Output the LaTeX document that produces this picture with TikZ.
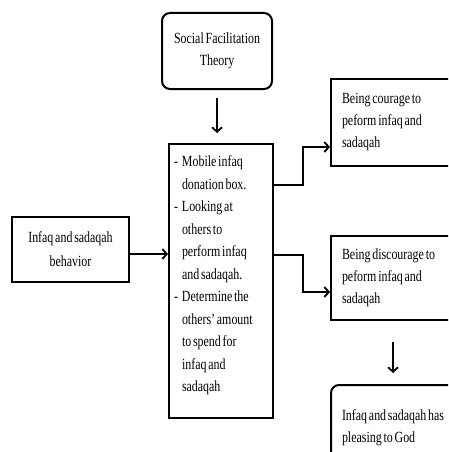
\documentclass[tikz,border=0pt]{standalone}
\usepackage{fontspec}
\setmainfont[FakeStretch=0.77, WordSpace=0.6]{Liberation Serif}
\usetikzlibrary{arrows.meta}
\tikzset{ box/.style = { rectangle
                       , draw
                       , line width   = 2pt
                       , inner sep    = 0pt
                       , font         = \fontsize{15.5}{22}\selectfont
                       , execute at begin node = {\spaceskip=0pt\relax}
                       },
          rbox/.style = { box
                        , rounded corners = 8pt
                        },
          flow/.style = { line width = 2pt
                        , -{Straight Barb[length=4.5pt,width=10pt,line width=1.8pt]}
                        }
        }
\newcommand{\dashitem}{-\hspace{4pt}}
\newcommand{\hangitem}{\hspace*{8pt}}

\begin{document}
\begin{tikzpicture}[x=1pt, y=-1pt]
    \clip (0,0) rectangle (448,452);
    \node[rbox, minimum width=110pt, minimum height=76pt, align=center]
      (theory) at (217,51) {Social Facilitation\\Theory};
    \node[box, minimum width=104pt, minimum height=274pt, text width=94pt,
          align=left, anchor=north west] (factors) at (168,143)
      {\parbox[t][274pt][t]{94pt}{\spaceskip=0pt\raggedright\baselineskip=22.5pt
       \vspace*{12pt}%
       \dashitem Mobile infaq\\
       \hangitem donation box.\\
       \dashitem Looking at\\
       \hangitem others to\\
       \hangitem perform infaq\\
       \hangitem and sadaqah.\\
       \dashitem Determine the\\
       \hangitem others' amount\\
       \hangitem to spend for\\
       \hangitem infaq and\\
       \hangitem sadaqah}};
    \node[box, minimum width=117pt, minimum height=65pt, align=center]
      (behavior) at (70.5,249.5) {Infaq and sadaqah\\[2pt]behavior};
    \node[box, minimum width=140pt, minimum height=87pt, anchor=north west,
          text width=118pt, align=left] (courage) at (330,78)
      {Being courage to\\peform infaq and\\sadaqah};
    \node[box, minimum width=140pt, minimum height=84pt, anchor=north west,
          text width=118pt, align=left] (discourage) at (330,235)
      {Being discourage to\\peform infaq and\\sadaqah};
    \node[rbox, minimum width=140pt, minimum height=86pt, anchor=north west,
          text width=118pt, align=left] (pleasing) at (330,384)
      {Infaq and sadaqah has\\pleasing to God\\[16pt]};
    % connectors
    \coordinate (up) at (303,185);
    \coordinate (down) at (303,255);
    \draw[flow, shorten <=8pt, shorten >=10pt] (theory.south) -- (factors.north -| theory.south);
    \draw[flow] (behavior.east |- 0,254) -- (factors.west |- 0,254);
    \draw[flow] (factors.east |- up) -- (up) |- (courage.west |- 0,147);
    \draw[flow] (factors.east |- down) -- (down) |- (discourage.west |- 0,292);
    \draw[flow, shorten <=21pt, shorten >=11pt] (discourage.south -| 393,0) -- (pleasing.north -| 393,0);
\end{tikzpicture}
\end{document}
